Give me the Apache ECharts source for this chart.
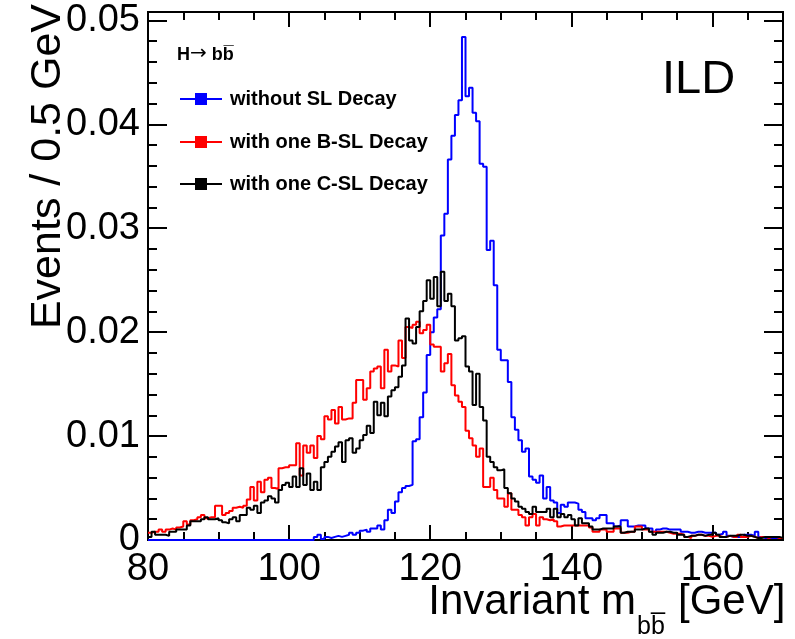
<!DOCTYPE html>
<html>
<head>
<meta charset="utf-8">
<script src="https://cdn.jsdelivr.net/npm/echarts/dist/echarts.min.js"></script>
<style>
html,body{margin:0;padding:0;background:#fff;}
#chart{width:795px;height:639px;}
</style>
</head>
<body>
<div id="chart"></div>
<script>
// Histogram binning (GeV)
const binStart = 80;
const binWidth = 0.5;

// without SL Decay (blue)
const withoutSL = [
0,0,0,0,0,0,0,0,0,0,
0,0,0,0,0,0,0,0,0,0,
0,0,0,0,0,0,0,0,0,0,
0,0,0,0,0,0,0,0,0,0,
0,0,0,0,0,0,0,0.0003,0.0005,0.0001,
0.0003,0.0002,0.0003,0.0004,0.0003,0.0004,0.0005,0.0007,0.0005,0.0007,
0.0009,0.0010,0.0008,0.0011,0.0011,0.0014,0.0010,0.0019,0.0029,0.0026,
0.0037,0.0046,0.0050,0.0052,0.0053,0.0095,0.0097,0.0118,0.0142,0.0178,
0.0200,0.0214,0.0222,0.0293,0.0314,0.0366,0.0389,0.0409,0.0423,0.0484,
0.0427,0.0435,0.0411,0.0403,0.0362,0.0359,0.0279,0.0288,0.0245,0.0183,
0.0173,0.0173,0.0152,0.0118,0.0106,0.0096,0.0085,0.0088,0.0061,0.0058,
0.0055,0.0062,0.0040,0.0051,0.0038,0.0036,0.0026,0.0034,0.0032,0.0036,
0.0036,0.0035,0.0029,0.0027,0.0021,0.0021,0.0019,0.0021,0.0024,0.0024,
0.0016,0.0016,0.0013,0.0014,0.0019,0.0019,0.0013,0.0013,0.0014,0.0014,
0.0014,0.0011,0.0011,0.0008,0.0010,0.0011,0.0011,0.0010,0.0010,0.0010,
0.0010,0.0008,0.0008,0.0007,0.0007,0.0008,0.0008,0.0007,0.0007,0.0007,
0.0007,0.0005,0.0006,0.0008,0.0004,0.0003,0.0003,0.0003,0.0003,0.0005,
0.0005,0.0004,0.0008,0.0003,0.0002,0.0002,0.0002,0.0002,0.0002,0.0002
];

// with one B-SL Decay (red)
const withBSL = [
0.0007,0.0008,0.0008,0.0010,0.0008,0.0010,0.0011,0.0010,0.0012,0.0013,
0.0018,0.0015,0.0019,0.0020,0.0022,0.0024,0.0021,0.0022,0.0022,0.0033,
0.0033,0.0024,0.0026,0.0028,0.0031,0.0032,0.0031,0.0033,0.0039,0.0051,
0.0038,0.0056,0.0046,0.0058,0.0060,0.0050,0.0049,0.0069,0.0070,0.0070,
0.0072,0.0072,0.0093,0.0062,0.0091,0.0084,0.0091,0.0079,0.0100,0.0097,
0.0119,0.0116,0.0125,0.0112,0.0128,0.0116,0.0117,0.0117,0.0132,0.0154,
0.0154,0.0135,0.0146,0.0162,0.0165,0.0167,0.0146,0.0183,0.0162,0.0168,
0.0167,0.0192,0.0175,0.0205,0.0204,0.0207,0.0210,0.0199,0.0202,0.0207,
0.0188,0.0186,0.0186,0.0162,0.0170,0.0179,0.0149,0.0139,0.0133,0.0128,
0.0105,0.0098,0.0091,0.0080,0.0088,0.0051,0.0051,0.0060,0.0048,0.0040,
0.0040,0.0032,0.0045,0.0029,0.0029,0.0024,0.0022,0.0014,0.0022,0.0025,
0.0014,0.0022,0.0020,0.0019,0.0020,0.0018,0.0013,0.0014,0.0014,0.0014,
0.0014,0.0014,0.0014,0.0014,0.0014,0.0012,0.0008,0.0008,0.0010,0.0010,
0.0008,0.0008,0.0011,0.0011,0.0007,0.0007,0.0008,0.0008,0.0013,0.0013,
0.0010,0.0010,0.0008,0.0008,0.0008,0.0008,0.0008,0.0007,0.0006,0.0006,
0.0006,0.0005,0.0003,0.0002,0.0004,0.0005,0.0005,0.0004,0.0004,0.0003,
0.0004,0.0004,0.0003,0.0003,0.0004,0.0003,0.0003,0.0005,0.0003,0.0003,
0.0004,0.0003,0.0002,0.0003,0.0003,0.0002,0.0003,0.0003,0.0002,0.0002
];

// with one C-SL Decay (black)
const withCSL = [
0.0003,0.0008,0.0005,0.0005,0.0005,0.0004,0.0008,0.0008,0.0010,0.0010,
0.0010,0.0014,0.0018,0.0018,0.0018,0.0020,0.0022,0.0020,0.0020,0.0021,
0.0019,0.0017,0.0016,0.0020,0.0022,0.0018,0.0024,0.0024,0.0031,0.0029,
0.0033,0.0026,0.0036,0.0038,0.0042,0.0040,0.0036,0.0048,0.0053,0.0055,
0.0051,0.0061,0.0051,0.0069,0.0053,0.0064,0.0048,0.0056,0.0048,0.0070,
0.0075,0.0080,0.0085,0.0090,0.0094,0.0075,0.0096,0.0098,0.0084,0.0088,
0.0096,0.0101,0.0110,0.0103,0.0133,0.0120,0.0132,0.0119,0.0138,0.0144,
0.0147,0.0157,0.0168,0.0213,0.0192,0.0189,0.0205,0.0220,0.0230,0.0250,
0.0232,0.0253,0.0225,0.0258,0.0230,0.0237,0.0225,0.0192,0.0194,0.0196,
0.0167,0.0162,0.0130,0.0160,0.0128,0.0115,0.0080,0.0075,0.0070,0.0067,
0.0068,0.0050,0.0045,0.0040,0.0037,0.0032,0.0030,0.0027,0.0025,0.0032,
0.0027,0.0027,0.0027,0.0030,0.0022,0.0030,0.0022,0.0025,0.0022,0.0024,
0.0020,0.0014,0.0021,0.0016,0.0016,0.0013,0.0010,0.0010,0.0011,0.0011,
0.0011,0.0011,0.0013,0.0013,0.0007,0.0008,0.0008,0.0008,0.0010,0.0010,
0.0011,0.0011,0.0008,0.0005,0.0007,0.0007,0.0008,0.0008,0.0007,0.0007,
0.0005,0.0005,0.0003,0.0004,0.0004,0.0005,0.0005,0.0004,0.0005,0.0005,
0.0007,0.0005,0.0003,0.0003,0.0004,0.0004,0.0004,0.0005,0.0005,0.0004,
0.0004,0.0003,0.0002,0.0002,0.0003,0.0003,0.0003,0.0003,0.0003,0.0002
];

const seriesNames = ['without SL Decay', 'with one B-SL Decay', 'with one C-SL Decay'];
const seriesColors = ['#0000ff', '#ff0000', '#000000'];
const xTickLabels = [80, 100, 120, 140, 160];
const yTickLabels = [0, 0.01, 0.02, 0.03, 0.04, 0.05];

function toSteps(values) {
  const pts = values.map((v, i) => [binStart + i * binWidth, v]);
  pts.push([binStart + values.length * binWidth, values[values.length - 1]]);
  return pts;
}

const FONT = 'Liberation Sans, Arial, Helvetica, sans-serif';
const chart = echarts.init(document.getElementById('chart'), null, {renderer: 'canvas'});

function xAx(pos, interval, len, labels) {
  return {
    type: 'value', position: pos, min: 80, max: 170, interval: interval,
    axisLine: {show: true, onZero: false, lineStyle: {color: '#000', width: 2}},
    axisTick: {show: true, inside: true, length: len, lineStyle: {color: '#000', width: 2}},
    axisLabel: labels ? {
      show: true, fontSize: 38, color: '#000', fontFamily: FONT, margin: 11,
      formatter: v => xTickLabels.some(t => Math.abs(t - v) < 1e-6) ? String(v) : ''
    } : {show: false},
    splitLine: {show: false}
  };
}
function yAx(pos, interval, len, labels) {
  return {
    type: 'value', position: pos, min: 0, max: 0.0508, interval: interval,
    axisLine: {show: true, onZero: false, lineStyle: {color: '#000', width: 2}},
    axisTick: {show: true, inside: true, length: len, lineStyle: {color: '#000', width: 2}},
    axisLabel: labels ? {
      show: true, fontSize: 38, color: '#000', fontFamily: FONT, margin: 8,
      formatter: v => {
        const t = yTickLabels.find(t => Math.abs(t - v) < 1e-6);
        if (t === undefined) return '';
        return t === 0 ? '0' : t.toFixed(2);
      }
    } : {show: false},
    splitLine: {show: false}
  };
}

const datasets = [withoutSL, withBSL, withCSL];
const series = datasets.map((d, i) => ({
  name: seriesNames[i], type: 'line', step: 'end', xAxisIndex: 0, yAxisIndex: 0,
  data: toSteps(d), showSymbol: false, symbol: 'none',
  lineStyle: {color: seriesColors[i], width: 2}, z: 3 + i, clip: true
}));

const legendY = [99, 142, 184];
const graphics = [];
graphics.push({type: 'text', x: 177, y: 55, style: {
  text: '{a|H}{r|\u2192}{a| bb\u0305}',
  fill: '#000', verticalAlign: 'middle', align: 'left',
  rich: {
    a: {fontFamily: FONT, fontWeight: 'bold', fontSize: 18, fill: '#000'},
    r: {fontFamily: 'DejaVu Sans', fontSize: 20, fill: '#000', padding: [0, 0, 2, 0]}
  }
}});
seriesNames.forEach((n, i) => {
  graphics.push({type: 'line', shape: {x1: 180, y1: legendY[i], x2: 222, y2: legendY[i]}, style: {stroke: seriesColors[i], lineWidth: 2}});
  graphics.push({type: 'rect', shape: {x: 195, y: legendY[i] - 6, width: 12, height: 12}, style: {fill: seriesColors[i]}});
  graphics.push({type: 'text', x: 230, y: legendY[i], style: {text: n, font: 'bold 20px ' + FONT, fill: '#000', verticalAlign: 'middle', align: 'left'}});
});
graphics.push({type: 'text', x: 662, y: 80, style: {text: 'ILD', font: '47px ' + FONT, fill: '#000', verticalAlign: 'middle', align: 'left'}});
graphics.push({type: 'text', x: 48, y: 4, rotation: Math.PI / 2, style: {text: 'Events / 0.5 GeV', font: '43px ' + FONT, fill: '#000', verticalAlign: 'middle', align: 'right'}});
graphics.push({type: 'text', x: 636, y: 602, style: {text: 'Invariant m', font: '42px ' + FONT, fill: '#000', verticalAlign: 'middle', align: 'right'}});
graphics.push({type: 'text', x: 637, y: 627, style: {text: 'bb\u0305', font: '25px ' + FONT, fill: '#000', verticalAlign: 'middle', align: 'left'}});
graphics.push({type: 'text', x: 678, y: 602, style: {text: '[GeV]', font: '42px ' + FONT, fill: '#000', verticalAlign: 'middle', align: 'left'}});

chart.setOption({
  animation: false,
  backgroundColor: '#fff',
  grid: {left: 148, right: 12, top: 12, bottom: 99, containLabel: false},
  xAxis: [xAx('bottom', 20, 15, true), xAx('bottom', 5, 8, false), xAx('top', 20, 15, false), xAx('top', 5, 8, false)],
  yAxis: [yAx('left', 0.01, 19, true), yAx('left', 0.002, 9, false), yAx('right', 0.01, 19, false), yAx('right', 0.002, 9, false)],
  series: series,
  graphic: graphics
});
</script>
</body>
</html>
